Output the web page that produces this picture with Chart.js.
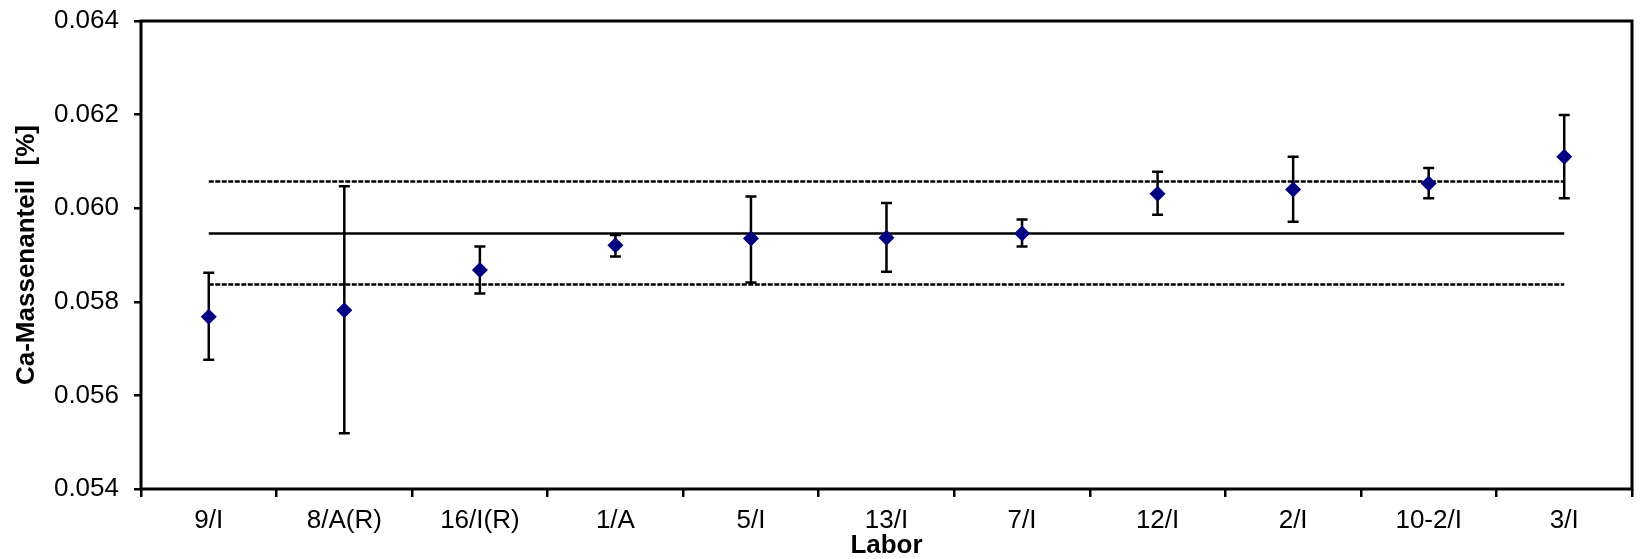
<!DOCTYPE html>
<html>
<head>
<meta charset="utf-8">
<script src="https://cdn.jsdelivr.net/npm/chart.js@4/dist/chart.umd.min.js"></script>
<style>
  html, body { margin: 0; padding: 0; background: #fff; }
  #wrap { width: 1640px; height: 559px; }
</style>
</head>
<body>
<div id="wrap"><canvas id="chart"></canvas></div>
<script>
// lab codes along the x axis
const labs = ['9/I', '8/A(R)', '16/I(R)', '1/A', '5/I', '13/I', '7/I', '12/I', '2/I', '10-2/I', '3/I'];
// lab means and their error bar ends (Ca mass fraction, %)
const means = [0.05768, 0.05782, 0.05868, 0.05921, 0.05935, 0.05937, 0.05946, 0.06031, 0.06040, 0.06053, 0.06110];
const upper = [0.05862, 0.06047, 0.05918, 0.05943, 0.06025, 0.06011, 0.05976, 0.06078, 0.06110, 0.06086, 0.06199];
const lower = [0.05676, 0.05519, 0.05818, 0.05897, 0.05841, 0.05864, 0.05918, 0.05986, 0.05971, 0.06021, 0.06021];
// reference value and its limits
const refMean = 0.05946;
const refHigh = 0.06057;
const refLow = 0.05837;
const yTicks = [0.054, 0.056, 0.058, 0.060, 0.062, 0.064];

const FONT = 'Liberation Sans, Arial, sans-serif';

function refLine(v, dash, width) {
  return {
    type: 'line',
    data: [{ x: labs[0], y: v }, { x: labs[labs.length - 1], y: v }],
    borderColor: '#000',
    borderWidth: width,
    borderDash: dash,
    pointRadius: 0,
    fill: false
  };
}

const errorBars = {
  id: 'errorBars',
  beforeDatasetsDraw(chart) {
    const ctx = chart.ctx;
    const xs = chart.scales.x, ys = chart.scales.y;
    ctx.save();
    ctx.strokeStyle = '#000';
    ctx.lineWidth = 2.5;
    labs.forEach((lab, i) => {
      const x = xs.getPixelForValue(i);
      const yt = ys.getPixelForValue(upper[i]);
      const yb = ys.getPixelForValue(lower[i]);
      ctx.beginPath();
      ctx.moveTo(x, yt); ctx.lineTo(x, yb);
      ctx.moveTo(x - 5.5, yt); ctx.lineTo(x + 5.5, yt);
      ctx.moveTo(x - 5.5, yb); ctx.lineTo(x + 5.5, yb);
      ctx.stroke();
    });
    ctx.restore();
  }
};

const frame = {
  id: 'frame',
  afterDraw(chart) {
    const a = chart.chartArea, ctx = chart.ctx;
    ctx.save();
    ctx.strokeStyle = '#000';
    ctx.lineWidth = 3;
    ctx.strokeRect(a.left, a.top, a.right - a.left, a.bottom - a.top);
    ctx.restore();
  }
};

new Chart(document.getElementById('chart'), {
  type: 'line',
  data: {
    labels: labs,
    datasets: [
      {
        label: 'Labor',
        data: means,
        showLine: false,
        pointStyle: 'rectRot',
        pointRadius: 8,
        pointHoverRadius: 8,
        backgroundColor: '#000080',
        borderColor: '#000080',
        borderWidth: 0
      },
      refLine(refMean, [], 2.5),
      refLine(refHigh, [5, 1.5], 2.5),
      refLine(refLow, [5, 1.5], 2.5)
    ]
  },
  options: {
    responsive: true,
    maintainAspectRatio: false,
    animation: false,
    devicePixelRatio: 1,
    layout: { padding: { left: 0, right: 2, top: 21, bottom: 0 } },
    plugins: { legend: { display: false }, tooltip: { enabled: false } },
    scales: {
      x: {
        type: 'category',
        offset: true,
        border: { display: false },
        grid: { offset: true, drawOnChartArea: false, drawTicks: true, tickLength: 8, color: '#000', lineWidth: 2.5 },
        ticks: { color: '#000', font: { family: FONT, size: 26 }, padding: 8, maxRotation: 0, autoSkip: false },
        title: { display: true, text: 'Labor', color: '#000', font: { family: FONT, size: 26, weight: 'bold', lineHeight: 1 }, padding: { top: 0, bottom: 0 } },
        afterFit(s) { s.height = 70; s.paddingLeft = 0; s.paddingRight = 0; }
      },
      y: {
        min: 0.054,
        max: 0.064,
        afterBuildTicks(s) { s.ticks = yTicks.map(v => ({ value: v })); },
        border: { display: false },
        grid: { drawOnChartArea: false, drawTicks: true, tickLength: 7, color: '#000', lineWidth: 2.5 },
        ticks: { color: '#000', font: { family: FONT, size: 26 }, padding: 15, callback: v => v.toFixed(3) },
        title: { display: true, text: 'Ca-Massenanteil  [%]', color: '#000', font: { family: FONT, size: 26, weight: 'bold', lineHeight: 1 }, padding: { top: 14, bottom: 0 } },
        afterFit(s) { s.width = 141; s.paddingTop = 0; s.paddingBottom = 0; }
      }
    }
  },
  plugins: [errorBars, frame]
});
</script>
</body>
</html>
